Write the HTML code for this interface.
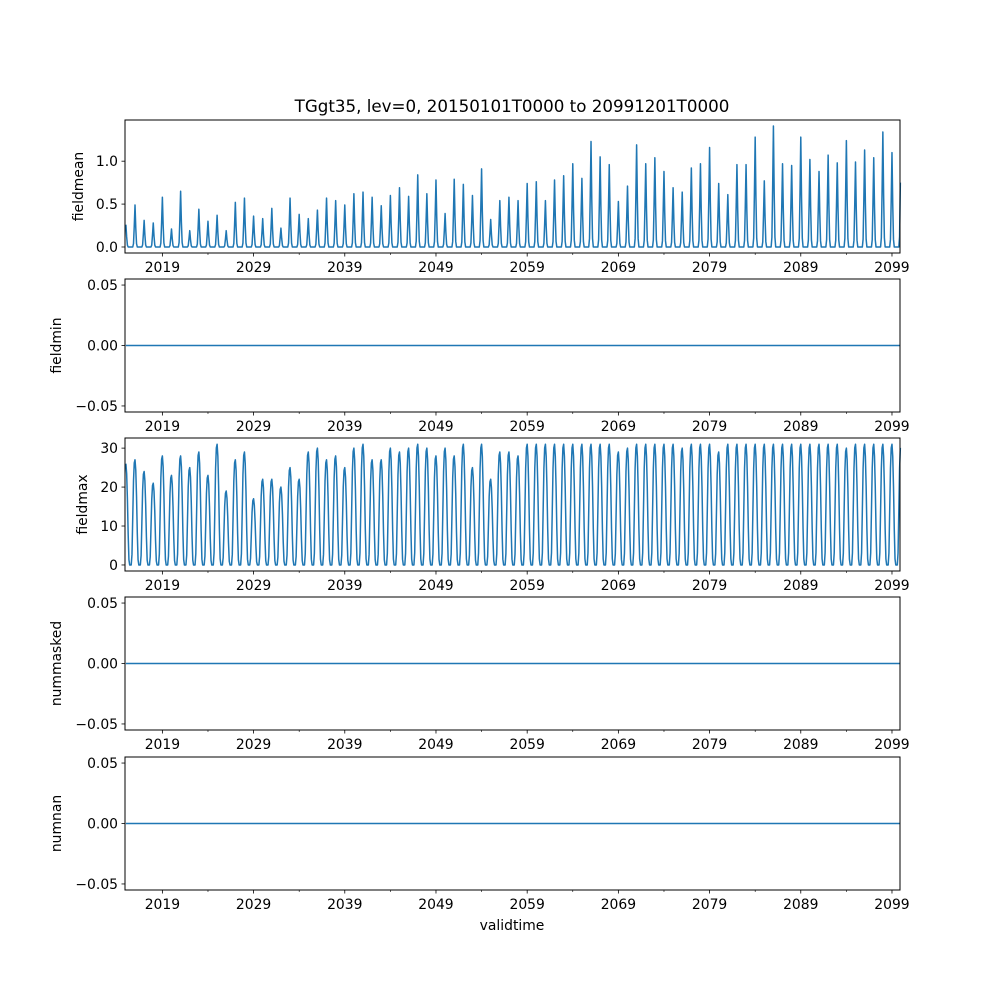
<!DOCTYPE html>
<html><head><meta charset="utf-8">
<style>
html,body{margin:0;padding:0;background:#fff;}
svg{display:block;font-family:"DejaVu Sans","Liberation Sans",sans-serif;}
</style></head>
<body>
<svg id="fig" width="1000" height="1000" viewBox="0 0 1000 1000" xmlns="http://www.w3.org/2000/svg">
<rect width="1000" height="1000" fill="#fff"/>
<text x="512" y="112" font-size="16.7" text-anchor="middle">TGgt35, lev=0, 20150101T0000 to 20991201T0000</text>
<text x="512" y="930" font-size="13.9" text-anchor="middle">validtime</text>
</svg>
<script>
// January (summer) peak values per season, 2015..2100
const seasonYears = []; for (let y = 2015; y <= 2100; y++) seasonYears.push(y);
const fieldmeanPeaks = [0.26,
0.49,0.31,0.28,0.58,0.21,0.65,0.19,0.44,0.30,0.37,0.19,0.52,0.57,0.36,0.33,0.45,0.22,0.57,0.38,0.33,0.43,0.57,0.54,0.49,0.62,0.64,0.58,0.48,0.60,0.69,0.59,0.84,0.62,0.78,0.39,0.79,0.73,0.60,0.91,0.32,0.54,0.58,0.54,
0.74,0.76,0.54,0.78,0.83,0.97,0.80,1.23,1.05,0.96,0.53,0.71,1.19,0.97,1.04,0.88,0.69,0.64,0.92,0.97,1.16,0.74,0.61,0.96,0.96,1.28,0.77,1.41,0.97,0.95,1.28,1.02,0.88,1.07,0.98,1.24,0.99,1.13,1.04,1.34,1.10,
1.5];
const fieldmaxPeaks = [26,
27,24,21,28,23,28,25,29,23,31,19,27,29,17,22,22,20,25,22,29,30,27,28,25,30,31,27,27,30,29,30,31,30,28,30,28,31,25,31,22,29,29,
28,31,31,31,31,31,31,31,31,31,31,29,30,31,31,31,31,31,30,31,31,31,29,31,31,31,31,31,31,31,31,31,31,31,31,31,30,31,31,31,31,31,
31];
// seasonal shape (fraction of peak) for month offsets relative to January
const meanShapeOffsets = [-2,-1,0,1,2];
const meanShape = [0.08,0.5,1,0.45,0.08];
const maxShapeOffsets = [-4,-3,-2,-1,0,1,2,3,4];
const maxShape = [0.1,0.45,0.8,0.97,1,0.9,0.65,0.3,0.05];
const zeroSeriesNames = ["fieldmin","nummasked","numnan"];
const xTickYears = [2019,2029,2039,2049,2059,2069,2079,2089,2099];
const xMinorYears = [2024,2034,2044,2054,2064,2074,2084,2094];
const meanTicks = [0.0,0.5,1.0];
const maxTicks = [0,10,20,30];
const zeroTicks = [-0.05,0.00,0.05];

const NS = "http://www.w3.org/2000/svg";
const svg = document.getElementById('fig');
const L = 125, R = 900, H = 133;
const tops = [120,279,438,597,757];
const labelX = [83,61,87,61,61];
const xOf = t => 125.9 + (t - 2015) * 9.12;

function mk(tag, attrs, parent){ const e=document.createElementNS(NS,tag); for(const k in attrs) e.setAttribute(k,attrs[k]); (parent||svg).appendChild(e); return e; }

function monthly(peaks, offs, shape){
  const v = new Array(1020).fill(0);
  peaks.forEach((p,s)=>{
    offs.forEach((o,i)=>{
      const m = s*12 + o;
      if (m>=0 && m<1020) v[m] = Math.max(v[m], p*shape[i]);
    });
  });
  return v;
}

function panel(idx, name, ymin, ymax, ticks, fmt, series){
  const top = tops[idx], bot = top + H;
  const yOf = v => bot - (v - ymin)/(ymax - ymin)*H;
  const g = mk('g',{});
  
  
  let d = '';
  series.forEach((v,m)=>{ const x = xOf(2015 + m/12); d += (m?'L':'M') + x.toFixed(2) + ',' + yOf(v).toFixed(2); });
  const p = mk('path',{d:d, fill:'none', stroke:'#1f77b4','stroke-width':1.5,'stroke-linejoin':'round'}, g);
  
  
  const fr = mk('rect',{x:L,y:top,width:R-L,height:H,fill:'none',stroke:'#000','stroke-width':1}, g);
  
  
  xTickYears.forEach(y=>{
    const x = xOf(y);
    mk('line',{x1:x,x2:x,y1:bot,y2:bot+3.5,stroke:'#000','stroke-width':0.8}, g);
    const t = mk('text',{x:x,y:bot+19,'font-size':13.9,'text-anchor':'middle'}, g);
    t.textContent = y;
    
    
  });
  xMinorYears.forEach(y=>{ const x=xOf(y); mk('line',{x1:x,x2:x,y1:bot,y2:bot+2,stroke:'#000','stroke-width':0.6}, g); });
  ticks.forEach(v=>{
    const y = yOf(v);
    mk('line',{x1:L-3.5,x2:L,y1:y,y2:y,stroke:'#000','stroke-width':0.8}, g);
    const t = mk('text',{x:L-7,y:y+5,'font-size':13.9,'text-anchor':'end'}, g);
    t.textContent = fmt(v);
    
    
  });
  const lab = mk('text',{x:0,y:0,'font-size':13.9,'text-anchor':'middle',transform:`translate(${labelX[idx]},${top+H/2}) rotate(-90)`}, g);
  lab.textContent = name;
  
  
}

const meanSeries = monthly(fieldmeanPeaks, meanShapeOffsets, meanShape);
const maxSeries = monthly(fieldmaxPeaks, maxShapeOffsets, maxShape);
const zeros = new Array(1020).fill(0);
const fmtZ = v => v.toFixed(2).replace('-','\u2212');
panel(0,'fieldmean',-0.07,1.48,meanTicks,v=>v.toFixed(1),meanSeries);
panel(1,zeroSeriesNames[0],-0.055,0.055,zeroTicks,fmtZ,zeros);
panel(2,'fieldmax',-1.55,32.6,maxTicks,v=>String(v),maxSeries);
panel(3,zeroSeriesNames[1],-0.055,0.055,zeroTicks,fmtZ,zeros);
panel(4,zeroSeriesNames[2],-0.055,0.055,zeroTicks,fmtZ,zeros);
</script>
</body></html>
